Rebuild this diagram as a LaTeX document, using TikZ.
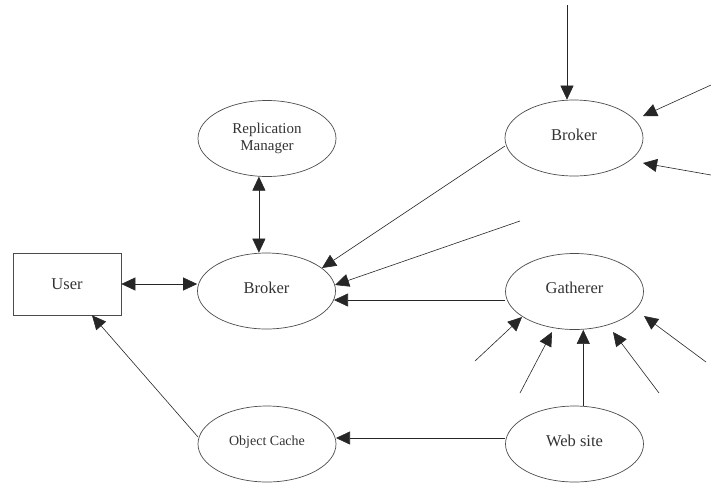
\documentclass[tikz,border=0pt]{standalone}
\usepackage{fontspec}
\setmainfont{Liberation Serif}
\usetikzlibrary{arrows.meta,shapes.geometric,calc}
\begin{document}
\begin{tikzpicture}[x=1pt,y=-1pt,
  proc/.style={ellipse,draw=black!70,line width=0.7pt,minimum width=138pt,
    minimum height=76pt,inner sep=0pt,text=black!80,
    font=\fontsize{16.5}{18}\selectfont},
  lift/.style={text depth=7pt},
  flow/.style={-{Triangle[length=14pt,width=13pt]},line width=0.6pt,draw=black!85},
  twoway/.style={{Triangle[length=14pt,width=13pt]}-{Triangle[length=14pt,width=13pt]},
    line width=0.6pt,draw=black!85}]
\useasboundingbox (0,0) rectangle (711,483);
\clip (0,0) rectangle (711,483);

% processes
\node[proc,align=center,font=\fontsize{15}{17}\selectfont] (rep) at (267,138.5) {Replication\\Manager};
\node[proc,lift] (brk) at (266.5,291) {Broker};
\node[proc,lift] (brk2) at (574,138) {Broker};
\node[proc,lift] (gat) at (574.5,291.5) {Gatherer};
\node[proc,lift] (web) at (574.5,444) {Web site};
\node[proc,lift,font=\fontsize{14}{16}\selectfont] (cache) at (267,444) {Object Cache};
\node[draw=black!70,line width=0.7pt,minimum width=108pt,minimum height=62pt,
  inner sep=0pt,text=black!80,font=\fontsize{16.5}{18}\selectfont] (user) at (67,284) {User};

% loose ends of incoming flows
\coordinate (t0) at (567,5);
\coordinate (r1) at (711,85);
\coordinate (r2) at (711,175);
\coordinate (f0) at (520,221);
\coordinate (g1) at (475,361);
\coordinate (g2) at (520,393);
\coordinate (g4) at (659,393);
\coordinate (g5) at (706,362);

% flows
\draw[twoway] (rep.-102) -- (rep.-102 |- brk.north);
\draw[twoway] (user.east) -- (brk.west |- user.east);
\draw[flow] (t0) -- (t0 |- brk2.north);
\draw[flow] (r1) -- ($(brk2)+(69,-22)$);
\draw[flow] (r2) -- ($(brk2)+(69,25)$);
\draw[flow] ($(brk2)+(-69,8)$) -- ($(brk)+(55.5,-23)$);
\draw[flow] (f0) -- ($(brk)+(68.5,-6)$);
\draw[flow] ($(gat)+(-69.5,8.5)$) -- ($(brk)+(67.5,9)$);
\draw[flow] (g1) -- ($(gat)+(-52.5,25.5)$);
\draw[flow] (g2) -- ($(gat)+(-22.5,40.5)$);
\draw[flow] (web.77) -- (web.77 |- gat.south);
\draw[flow] (g4) -- ($(gat)+(38.5,40.5)$);
\draw[flow] (g5) -- ($(gat)+(69.5,24.5)$);
\draw[flow] ($(web)+(-69.5,-6)$) -- ($(cache)+(69,-6)$);
\draw[flow] ($(cache)+(-69,-7)$) -- ($(user.south)+(25,0)$);
\end{tikzpicture}
\end{document}
